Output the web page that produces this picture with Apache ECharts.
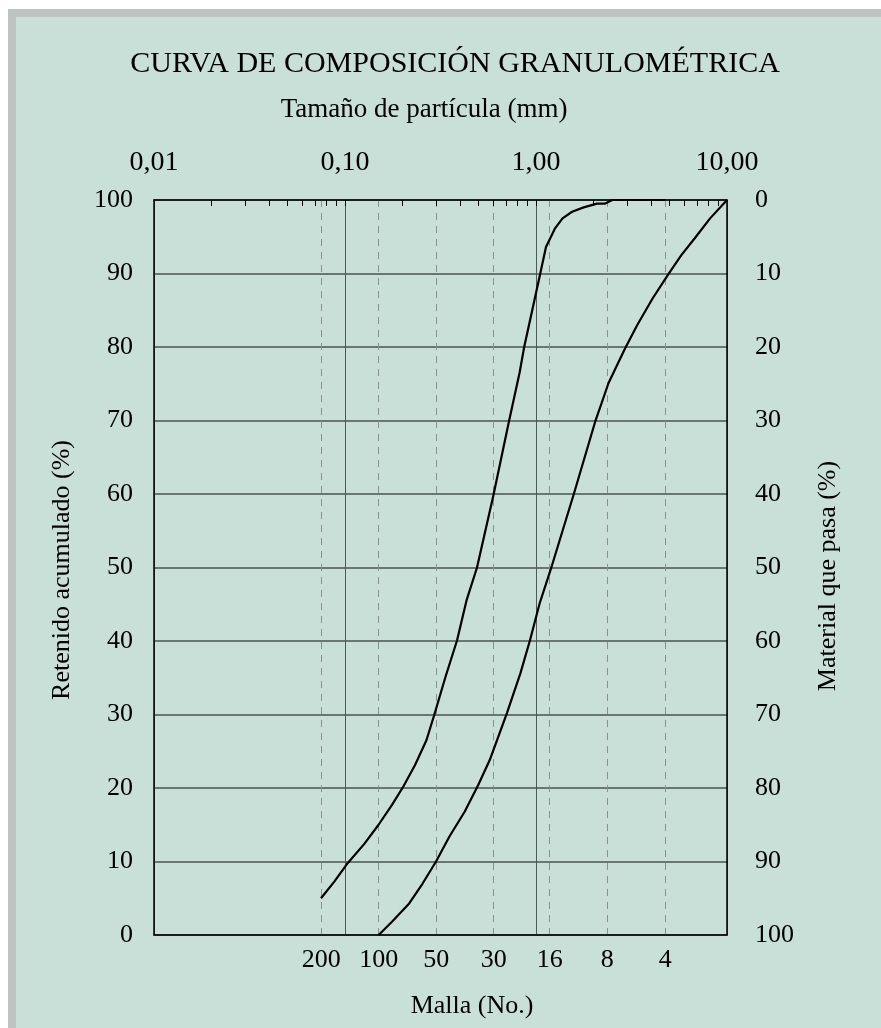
<!DOCTYPE html>
<html>
<head>
<meta charset="utf-8">
<script src="https://cdn.jsdelivr.net/npm/echarts@6/dist/echarts.min.js"></script>
<style>
  html, body { margin: 0; padding: 0; background: #ffffff; }
  #frame { position: absolute; left: 8px; top: 9px; width: 873px; height: 1019px;
           box-sizing: border-box; border-top: 8px solid #bfc3c1; border-left: 8px solid #bfc3c1;
           background: #c9e0d8; }
  #chart { position: absolute; left: 0; top: 0; width: 881px; height: 1028px; }
</style>
</head>
<body>
<div id="frame"></div>
<div id="chart"></div>
<script>
// ---- data ----
const topTickValues = [0.01, 0.1, 1, 10];
const topTickLabels = ['0,01', '0,10', '1,00', '10,00'];
const minorTickValues = [0.02, 0.03, 0.04, 0.05, 0.06, 0.07, 0.08, 0.09, 0.1,
                         0.2, 0.3, 0.4, 0.5, 0.6, 0.7, 0.8, 0.9, 1,
                         2, 3, 4, 5, 6, 7, 8, 9];
const sieveSizes = [0.075, 0.15, 0.3, 0.6, 1.18, 2.36, 4.75];
const sieveLabels = ['200', '100', '50', '30', '16', '8', '4'];

const sizesA = [0.0749, 0.0881, 0.1035, 0.1262, 0.1499, 0.1762, 0.2021, 0.2323, 0.2669, 0.2929,
                0.3357, 0.3862, 0.4336, 0.4911, 0.5993, 0.7207, 0.8204, 0.8673, 1.0445, 1.128,
                1.255, 1.377, 1.545, 1.777, 2.086, 2.289, 2.509, 4.75];
const retainedA = [5, 7.3, 9.8, 12.4, 15, 17.7, 20.2, 23.1, 26.5, 29.9,
                   35.1, 40.1, 45.6, 50, 59.9, 69.8, 76.5, 80, 89.6, 93.6,
                   96.1, 97.5, 98.4, 99, 99.5, 99.5, 100, 100];

const sizesB = [0.15, 0.1762, 0.2168, 0.2549, 0.2997, 0.3522, 0.4238, 0.4983, 0.5725, 0.7043,
                0.8284, 0.9301, 1.0445, 1.213, 1.582, 2.039, 2.398, 2.925, 3.39, 4.077,
                4.905, 5.767, 6.779, 8.156, 10];
const retainedB = [0, 1.8, 4.3, 7, 10, 13.4, 16.8, 20.4, 23.8, 30.2,
                   35.6, 40.1, 45.1, 50.3, 60.1, 69.8, 75.1, 79.8, 83, 86.6,
                   89.8, 92.5, 94.8, 97.5, 100];

const titleText = 'CURVA DE COMPOSICIÓN GRANULOMÉTRICA';
const topAxisName = 'Tamaño de partícula (mm)';
const bottomAxisName = 'Malla (No.)';
const leftAxisName = 'Retenido acumulado (%)';
const rightAxisName = 'Material que pasa (%)';

// ---- chart ----
const FONT = 'Liberation Serif';
const chart = echarts.init(document.getElementById('chart'), null, { renderer: 'canvas' });

function nearestLabel(v, values, labels) {
  let best = 0, bd = Infinity;
  values.forEach((s, i) => {
    const d = Math.abs(Math.log10(s) - Math.log10(v));
    if (d < bd) { bd = d; best = i; }
  });
  return labels[best];
}

const pairs = (xs, ys) => xs.map((x, i) => [x, ys[i]]);
const nameStyle = (text, size) => ({ text, fontFamily: FONT, fontSize: size, fill: '#000',
                                     align: 'center', verticalAlign: 'middle' });

const option = {
  backgroundColor: 'transparent',
  animation: false,
  title: {
    text: titleText,
    left: 450, top: 44, textAlign: 'center',
    textStyle: { fontFamily: FONT, fontSize: 30, fontWeight: 'normal', color: '#000' }
  },
  graphic: [
    { type: 'text', x: 424, y: 110, style: nameStyle(topAxisName, 27) },
    { type: 'text', x: 472, y: 1006, style: nameStyle(bottomAxisName, 26) },
    { type: 'text', x: 62, y: 570, rotation: Math.PI / 2, style: nameStyle(leftAxisName, 26) },
    { type: 'text', x: 828, y: 576, rotation: Math.PI / 2, style: nameStyle(rightAxisName, 26) }
  ],
  grid: { left: 154, right: 154, top: 200, bottom: 93, show: false },
  xAxis: [
    {
      type: 'log', logBase: 10, min: 0.01, max: 10, position: 'top',
      axisLine: { show: true, onZero: false, lineStyle: { color: '#000', width: 1.5 } },
      axisTick: { show: false },
      axisLabel: {
        show: true, margin: 23, fontFamily: FONT, fontSize: 28, color: '#000',
        formatter: v => nearestLabel(v, topTickValues, topTickLabels)
      },
      splitLine: { show: true, lineStyle: { color: '#4f5954', width: 1 } }
    },
    {
      type: 'log', logBase: 10, min: 0.01, max: 10, position: 'bottom',
      axisLine: { show: true, onZero: false, lineStyle: { color: '#000', width: 1.5 } },
      axisTick: { show: false, length: 0, customValues: sieveSizes },
      axisLabel: {
        show: true, margin: 12, fontFamily: FONT, fontSize: 26, color: '#000',
        customValues: sieveSizes,
        formatter: v => nearestLabel(v, sieveSizes, sieveLabels)
      },
      splitLine: { show: true, lineStyle: { color: '#8c918e', width: 1, type: [7, 6] } }
    },
    {
      type: 'log', logBase: 10, min: 0.01, max: 10, position: 'top',
      axisLine: { show: false, onZero: false },
      axisTick: { show: true, inside: true, length: 6, customValues: minorTickValues,
                  lineStyle: { color: '#000', width: 1 } },
      axisLabel: { show: false },
      splitLine: { show: false }
    }
  ],
  yAxis: [
    {
      type: 'value', min: 0, max: 100, interval: 10, position: 'left',
      axisLine: { show: true, onZero: false, lineStyle: { color: '#000', width: 1.5 } },
      axisTick: { show: false },
      axisLabel: { margin: 21, fontFamily: FONT, fontSize: 26, color: '#000' },
      splitLine: { show: true, lineStyle: { color: '#4a544f', width: 1.5 } }
    },
    {
      type: 'value', min: 0, max: 100, interval: 10, position: 'right', inverse: true,
      axisLine: { show: true, onZero: false, lineStyle: { color: '#000', width: 1.5 } },
      axisTick: { show: false },
      axisLabel: { margin: 28, fontFamily: FONT, fontSize: 26, color: '#000', align: 'left' },
      splitLine: { show: false }
    }
  ],
  series: [
    {
      name: 'Límite fino', type: 'line', xAxisIndex: 0, yAxisIndex: 0,
      data: pairs(sizesA, retainedA), showSymbol: false, symbol: 'none', z: 3,
      lineStyle: { color: '#000', width: 2.2 }
    },
    {
      name: 'Límite grueso', type: 'line', xAxisIndex: 0, yAxisIndex: 0,
      data: pairs(sizesB, retainedB), showSymbol: false, symbol: 'none', z: 3,
      lineStyle: { color: '#000', width: 2.2 }
    }
  ]
};
chart.setOption(option);
</script>
</body>
</html>
